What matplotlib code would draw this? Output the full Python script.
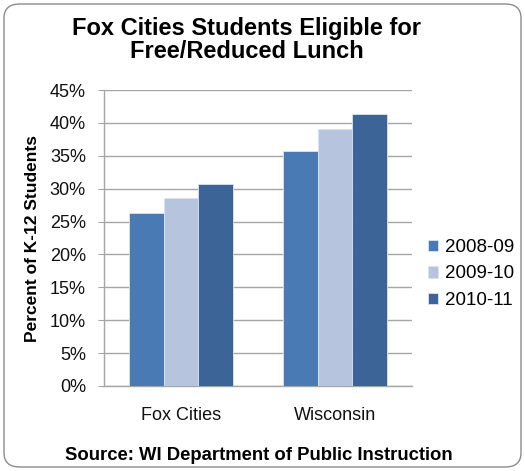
"""
Fox Cities vs Wisconsin: students eligible for free/reduced lunch.
"""

import matplotlib.pyplot as plt
import numpy as np
from matplotlib.patches import FancyBboxPatch
from matplotlib.ticker import PercentFormatter

# ── Data ───────────────────────────────────────────────────────
categories = ['Fox Cities', 'Wisconsin']
years = ['2008-09', '2009-10', '2010-11']
pct_2008 = [26.3, 35.8]
pct_2009 = [28.6, 39.0]
pct_2010 = [30.7, 41.4]
colors = ['#4A7AB4', '#B7C4DE', '#3D6496']
# ───────────────────────────────────────────────────────────────

plt.rcParams['font.family'] = ['Liberation Sans', 'DejaVu Sans']

fig = plt.figure(figsize=(5.25, 4.71), dpi=100)
ax = fig.add_axes([104 / 525, 1 - 386 / 471, 308 / 525, 296 / 471])

x = np.arange(len(categories))
width = 0.223
series = [pct_2008, pct_2009, pct_2010]
for i, (vals, lab, col) in enumerate(zip(series, years, colors)):
    ax.bar(x + (i - 1) * width, vals, width, color=col, label=lab,
           edgecolor='#DCE3EF', linewidth=0.6, zorder=3)

ax.set_xlim(-0.5, 1.5)
ax.set_ylim(0, 45)
ax.set_yticks(np.arange(0, 46, 5))
ax.yaxis.set_major_formatter(PercentFormatter(decimals=0))
ax.set_xticks(x)
ax.set_xticklabels(categories)

ax.grid(axis='y', color='#A6A6A6', linewidth=1.0, zorder=0)
for s in ['top', 'right']:
    ax.spines[s].set_visible(False)
for s in ['left', 'bottom']:
    ax.spines[s].set_color('#A6A6A6')
    ax.spines[s].set_linewidth(1.0)
ax.tick_params(axis='y', length=4, color='#A6A6A6', pad=9,
               labelsize=13, labelcolor='#111111')
ax.tick_params(axis='x', length=0, pad=15, labelsize=13,
               labelcolor='#111111')

fig.text(33 / 525, 1 - 238 / 471, 'Percent of K-12 Students',
         rotation=90, ha='center', va='center', fontsize=12.5,
         fontweight='bold')

fig.text(247 / 525, 1 - 40 / 471,
         'Fox Cities Students Eligible for\nFree/Reduced Lunch',
         ha='center', va='center', fontsize=17, fontweight='bold',
         linespacing=1.0)

ax.legend(loc='center left', bbox_to_anchor=(428 / 525, 1 - 274 / 471),
          bbox_transform=fig.transFigure, frameon=False,
          fontsize=13.5, handlelength=0.55, handleheight=0.55,
          handletextpad=0.35, labelspacing=0.5, borderaxespad=0,
          borderpad=0)

fig.text(259 / 525, 1 - 455 / 471,
         'Source: WI Department of Public Instruction',
         ha='center', va='center', fontsize=13.3, fontweight='bold')

border = FancyBboxPatch((4 / 525, 4 / 471), 517 / 525, 463 / 471,
                        boxstyle='round,pad=0,rounding_size=0.03',
                        transform=fig.transFigure, fill=False,
                        edgecolor='#8C8C8C', linewidth=1.0)
fig.patches.append(border)

fig.savefig('out.png', dpi=100)
